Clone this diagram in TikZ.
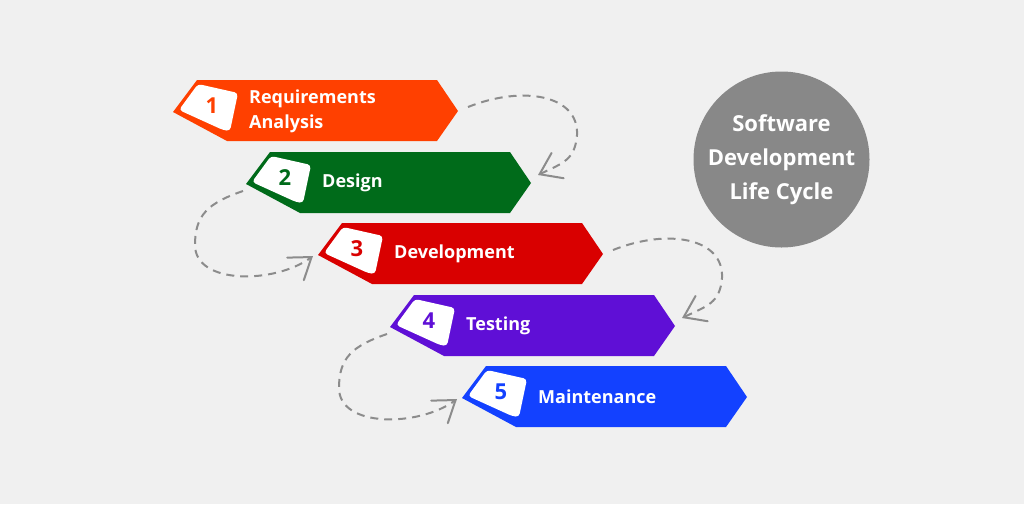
\documentclass[tikz,border=0pt]{standalone}
\usepackage{fontspec}
\setmainfont{Open Sans}
\usetikzlibrary{arrows.meta,calc}
\definecolor{bgc}{HTML}{F0F0F0}
\definecolor{cA}{HTML}{FF4000}
\definecolor{cB}{HTML}{006B1A}
\definecolor{cC}{HTML}{D90000}
\definecolor{cD}{HTML}{5F0FD6}
\definecolor{cE}{HTML}{1341FF}
\definecolor{circgray}{HTML}{888888}
\definecolor{flowgray}{HTML}{8C8C8C}
\tikzset{
  labeltext/.style={anchor=west, inner sep=0pt, text=white, align=left,
    font=\fontsize{18}{25}\selectfont\bfseries},
  digitnum/.style={inner sep=0pt, font=\fontsize{22}{22}\selectfont\bfseries},
  flow/.style={draw=flowgray, line width=2pt, dash pattern=on 8pt off 6pt,
    -{Straight Barb[length=20pt,width=28pt,line cap=round]}},
}
\newcommand\sdlcbanner[5]{%
  \begin{scope}[shift={#2}]
    \fill[#3] (0,0) -- (24,-32) -- (264,-32) -- (285,-1) -- (264,29) -- (54,29) -- cycle;
    \fill[white, rounded corners=3.5pt] (6,-2) -- (25,-28) -- (65,-19) -- (57,19) -- (50,18) -- cycle;
    \node[digitnum, text=#3] (d#1) at (39,-6) {#4};
    \node[labeltext] (t#1) at (76,-1) {#5};
    \coordinate (S#1) at (295,-5);
    \coordinate (P#1) at (292,-9);
    \coordinate (Q#1) at (-3,7);
    \coordinate (E#1) at (-5,1);
  \end{scope}}
\begin{document}
\begin{tikzpicture}[x=1pt,y=-1pt]
  \fill[bgc] (0,0) rectangle (1024,504);
  \sdlcbanner{1}{(173,112)}{cA}{1}{Requirements\\Analysis}
  \sdlcbanner{2}{(246,184)}{cB}{2}{Design}
  \sdlcbanner{3}{(318,255)}{cC}{3}{Development}
  \sdlcbanner{4}{(390,327)}{cD}{4}{Testing}
  \sdlcbanner{5}{(462,398)}{cE}{5}{Maintenance}
  \node[circle, fill=circgray, minimum size=176pt, inner sep=0pt, text=white,
    align=center, font=\fontsize{22}{34}\selectfont\bfseries] (sdlc) at (781.5,159.5)
    {Software\\Development\\Life Cycle};
  % right-side loops
  \draw[flow] (S1) .. controls +(55,-22) and +(2,-40) .. ($(S1)+(109,28)$)
              .. controls +(-2,25) and +(25,-12) .. (P2);
  \draw[flow] (S3) .. controls +(55,-22) and +(2,-40) .. ($(S3)+(109,28)$)
              .. controls +(-2,25) and +(25,-12) .. (P4);
  % left-side loops
  \draw[flow] (Q2) .. controls +(-35,12) and +(0,-30) .. ($(Q2)+(-48,54)$)
              .. controls +(0,40) and +(-38,28) .. (E3);
  \draw[flow] (Q4) .. controls +(-35,12) and +(0,-30) .. ($(Q4)+(-48,54)$)
              .. controls +(0,40) and +(-38,28) .. (E5);
\end{tikzpicture}
\end{document}
